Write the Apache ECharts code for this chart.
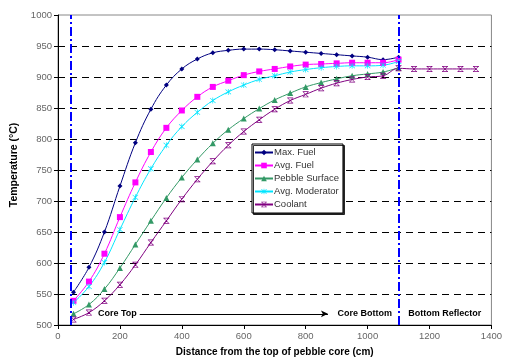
<!DOCTYPE html>
<html>
<head>
<meta charset="utf-8">
<script src="https://cdn.jsdelivr.net/npm/echarts@6/dist/echarts.min.js"></script>
<style>html,body{margin:0;padding:0;background:#fff}#c{width:505px;height:362px}</style>
</head>
<body>
<div id="c"></div>
<script>
var distances = [50,100,150,200,250,300,350,400,450,500,550,600,650,700,750,800,850,900,950,1000,1050,1100];
var reflectorDistances = [1150,1200,1250,1300,1350];
var maxFuel = [553,593,650,724,794,848,887,913,929,939,943,945,945,944,942,940,938,936,934,932,928,932];
var avgFuel = [539,570,615,674,730,779,818,846,868,884,894,903,909,913,917,920,921,922,923,923,923,928];
var pebbleSurface = [518,533,558,592,630,668,705,738,767,793,815,833,849,863,874,884,891,897,902,905,908,915];
var avgModerator = [536,562,601,654,706,752,790,820,843,862,876,887,896,902,908,912,915,917,918,918,919,925];
var coolant = [509,520,539,565,597,633,668,703,735,764,790,812,831,848,862,872,882,890,896,900,902,914];
var coolantReflector = [913,913,913,913,913];
var seriesNames = ['Max. Fuel','Avg. Fuel','Pebble Surface','Avg. Moderator','Coolant'];
var xTicks = [0,200,400,600,800,1000,1200,1400];
var yTicks = [500,550,600,650,700,750,800,850,900,950,1000];
var boundaries = [40, 1100];

function pairs(xs, ys){ return xs.map(function(x,i){ return [x, ys[i]]; }); }

var asterisk = 'path://M4.5,0L5.5,0L5.5,10L4.5,10Z M0.6,1.3L1.3,0.6L9.4,8.7L8.7,9.4Z M1.3,9.4L0.6,8.7L8.7,0.6L9.4,1.3Z';
var starX = 'path://M0,0L10,0L10,1.2L0,1.2Z M0,8.8L10,8.8L10,10L0,10Z M0.6,1.3L1.3,0.6L9.4,8.7L8.7,9.4Z M1.3,9.4L0.6,8.7L8.7,0.6L9.4,1.3Z';

var chart = echarts.init(document.getElementById('c'), null, {renderer:'canvas'});
var font = 'Liberation Sans, Arial, sans-serif';

function mkSeries(name, data, color, symbol, size, extra){
  var s = {
    name: name, type: 'line', data: data, smooth: 0.4,
    symbol: symbol, symbolSize: size, showSymbol: true,
    lineStyle: {color: color, width: 1},
    itemStyle: {color: color},
    emphasis: {disabled: true},
    animation: false
  };
  for (var k in extra) s[k] = extra[k];
  return s;
}

var option = {
  animation: false,
  grid: {left: 58, right: 9, top: 15, bottom: 36, show: true, borderColor: '#888', borderWidth: 1},
  legend: {
    orient: 'vertical', left: 252, top: 144,
    data: seriesNames,
    backgroundColor: '#fff', borderColor: '#000', borderWidth: 1,
    shadowColor: 'rgba(0,0,0,0.8)', shadowOffsetX: 1.5, shadowOffsetY: 1.5, shadowBlur: 0,
    padding: [3, 4, 3, 2],
    itemWidth: 18, itemHeight: 7, itemGap: 2,
    textStyle: {fontFamily: font, fontSize: 9.5, color: '#333', lineHeight: 11, padding: [0,0,0,-4]}
  },
  xAxis: {
    type: 'value', min: 0, max: 1400, interval: 200,
    name: 'Distance from the top of pebble core (cm)',
    nameLocation: 'middle', nameGap: 22,
    nameTextStyle: {fontFamily: font, fontSize: 10, fontWeight: 'bold', color: '#000'},
    axisLine: {show: true, lineStyle: {color: '#000', width: 1}},
    axisTick: {show: true, inside: false, length: 4, lineStyle: {color: '#000'}},
    axisLabel: {fontFamily: font, fontSize: 9.5, color: '#666', margin: 6,
      formatter: function(v){ return xTicks.indexOf(v) >= 0 ? String(v) : ''; }},
    splitLine: {show: false}
  },
  yAxis: {
    type: 'value', min: 500, max: 1000, interval: 50,
    name: 'Temperature (°C)',
    nameLocation: 'middle', nameGap: 27, nameRotate: 90,
    nameTextStyle: {fontFamily: font, fontSize: 10.5, fontWeight: 'bold', color: '#000', padding: [0, 0, 0, 10]},
    axisLine: {show: true, lineStyle: {color: '#000', width: 1}},
    axisTick: {show: true, inside: false, length: 4, lineStyle: {color: '#000'}},
    axisLabel: {fontFamily: font, fontSize: 9.5, color: '#666', margin: 6,
      formatter: function(v){ return yTicks.indexOf(v) >= 0 ? String(v) : ''; }},
    splitLine: {show: true, showMinLine: false, showMaxLine: false,
      lineStyle: {color: '#000', width: 1, type: [7, 5]}}
  },
  series: [
    mkSeries(seriesNames[0], pairs(distances, maxFuel), '#000080', 'diamond', 5, {
      markLine: {
        silent: true, symbol: ['none','none'], label: {show: false},
        lineStyle: {color: '#0000ff', width: 2, type: [9, 3, 2, 3]},
        data: boundaries.map(function(b){ return {xAxis: b}; })
      }
    }),
    mkSeries(seriesNames[1], pairs(distances, avgFuel), '#ff00ff', 'rect', 6, {}),
    mkSeries(seriesNames[2], pairs(distances, pebbleSurface), '#339966', 'triangle', 6, {}),
    mkSeries(seriesNames[3], pairs(distances, avgModerator), '#00e5ff', asterisk, 6, {}),
    mkSeries(seriesNames[4], pairs(distances, coolant).concat(pairs(reflectorDistances, coolantReflector)), '#800080', starX, 6, {
      markLine: {
        silent: true, symbol: ['none','arrow'], symbolSize: [5, 7], label: {show: false},
        lineStyle: {color: '#000', width: 1, type: 'solid'},
        data: [[{coord: [264, 518]}, {coord: [872, 518]}]]
      },
      markPoint: {
        silent: true, symbol: 'rect', symbolSize: 1,
        itemStyle: {color: 'rgba(0,0,0,0)'},
        label: {show: true, position: 'inside', fontFamily: font, fontSize: 9, fontWeight: 'bold', color: '#000'},
        data: [
          {coord: [192, 518], label: {formatter: 'Core Top'}},
          {coord: [991, 518], label: {formatter: 'Core Bottom'}},
          {coord: [1249, 518], label: {formatter: 'Bottom Reflector'}}
        ]
      }
    })
  ]
};
chart.setOption(option);
</script>
</body>
</html>
